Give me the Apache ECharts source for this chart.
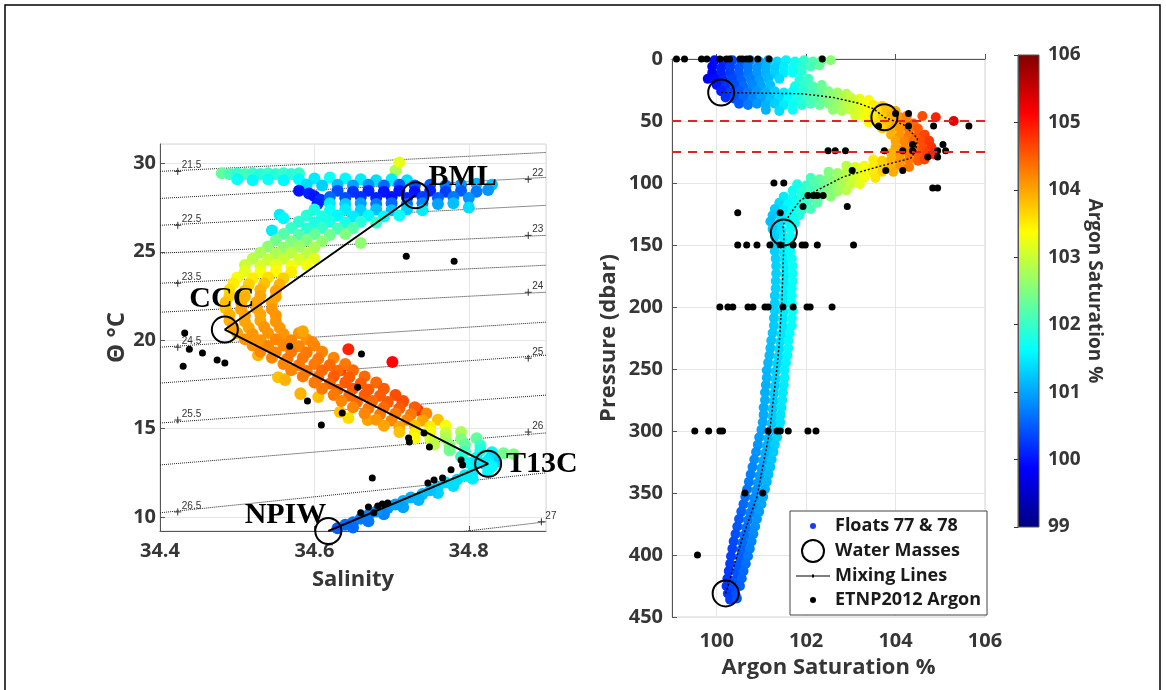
<!DOCTYPE html>
<html>
<head>
<meta charset="utf-8">
<title>Argon saturation – floats 77 &amp; 78</title>
<script src="https://cdn.jsdelivr.net/npm/echarts@6/dist/echarts.min.js"></script>
<style>
  html, body { margin: 0; background: #fff; }
  #main { width: 1166px; height: 690px; }
</style>
</head>
<body>
<div id="main"></div>
<script>
// jet colormap, 99 -> 106 %
var jetColors = ['#000080', '#0000ff', '#0080ff', '#00ffff', '#80ff80', '#ffff00', '#ff8000', '#ff0000', '#800000'];
var satMin = 99, satMax = 106;

// ---- left panel: theta / salinity ----
// [salinity, theta degC, argon saturation %]
var tsFloats = [
  [34.705,29.6,102.8],[34.71,30.05,103.2],
  [34.48,29.45,102.3],[34.49,29.4,102.1],[34.50,29.45,102.0],[34.51,29.4,102.1],[34.52,29.45,102.0],[34.53,29.4,101.9],[34.54,29.45,102.0],[34.55,29.4,101.9],[34.56,29.45,102.0],[34.57,29.4,101.9],[34.58,29.45,102.0],
  [34.50,29.1,101.7],[34.52,29.05,101.6],[34.54,29.1,101.7],[34.56,29.05,101.6],[34.58,29.1,101.6],[34.60,29.15,101.5],[34.62,29.2,101.7],[34.64,29.15,101.6],[34.66,29.1,101.5],[34.68,29.05,101.4],[34.70,29.1,101.5],[34.72,29.05,101.4],
  [34.59,28.8,101.4],[34.61,28.75,101.3],[34.63,28.8,101.2],[34.65,28.75,101.0],[34.67,28.8,100.9],[34.69,28.75,100.6],[34.71,28.8,100.5],[34.73,28.75,100.4],[34.75,28.8,100.5],[34.77,28.75,100.7],[34.79,28.8,100.9],[34.81,28.85,101.1],[34.83,28.8,101.2],
  [34.63,28.45,100.4],[34.65,28.4,100.2],[34.67,28.45,100.1],[34.69,28.4,100.0],[34.71,28.45,100.0],[34.73,28.4,100.0],[34.75,28.45,100.1],[34.77,28.4,100.3],[34.79,28.45,100.5],[34.81,28.4,100.7],[34.825,28.5,100.9],
  [34.58,28.45,100.0],[34.593,28.3,100.1],[34.60,28.15,100.0],[34.608,27.95,100.2],[34.604,27.7,100.1],
  [34.62,28.1,100.6],[34.64,28.05,100.4],[34.66,28.1,100.2],[34.68,28.05,100.1],[34.70,28.1,100.0],[34.72,28.05,100.1],[34.74,28.1,100.3],[34.76,28.05,100.5],[34.78,28.1,100.7],[34.80,28.05,100.9],
  [34.62,27.75,101.5],[34.64,27.7,101.3],[34.66,27.75,101.0],[34.68,27.7,100.7],[34.70,27.75,100.6],[34.72,27.7,100.6],[34.74,27.75,100.8],[34.76,27.7,101.0],[34.78,27.75,101.2],
  [34.80,27.5,101.4],
  [34.60,27.4,101.8],[34.62,27.35,101.7],[34.64,27.4,101.5],[34.66,27.35,101.3],[34.68,27.4,101.2],[34.70,27.35,101.2],[34.72,27.4,101.3],[34.74,27.35,101.5],
  [34.59,27.05,101.9],[34.61,27.0,101.8],[34.63,27.05,101.6],[34.65,27.0,101.5],[34.67,27.05,101.6],[34.69,27.0,101.6],[34.71,27.05,101.7],
  [34.58,26.7,101.9],[34.60,26.65,101.8],[34.62,26.7,101.8],[34.64,26.65,101.8],[34.66,26.7,101.9],[34.68,26.65,102.0],
  [34.555,27.1,101.5],[34.56,26.9,101.6],[34.545,26.2,101.5],
  [34.57,26.35,102.0],[34.59,26.3,101.9],[34.61,26.35,102.0],[34.63,26.3,102.1],[34.65,26.35,102.2],
  [34.56,26.0,102.2],[34.58,25.95,102.2],[34.60,26.0,102.3],[34.62,25.95,102.4],[34.64,26.0,102.5],
  [34.66,25.5,102.6],
  [34.55,25.65,102.4],[34.57,25.6,102.5],[34.59,25.65,102.5],[34.61,25.6,102.6],
  [34.54,25.3,102.6],[34.56,25.25,102.6],[34.58,25.3,102.7],[34.60,25.25,102.8],
  [34.53,24.95,102.8],[34.55,24.9,102.8],[34.57,24.95,102.9],[34.59,24.9,102.9],
  [34.52,24.6,102.9],[34.54,24.55,103.0],[34.56,24.6,103.0],[34.58,24.55,103.1],[34.60,24.6,103.2],
  [34.51,24.25,103.0],[34.53,24.2,103.1],[34.55,24.25,103.2],[34.57,24.2,103.3],[34.59,24.25,103.3],
  [34.51,23.9,103.2],[34.53,23.85,103.3],[34.55,23.9,103.4],[34.57,23.85,103.5],
  [34.50,23.55,103.3],[34.52,23.5,103.5],[34.54,23.55,103.6],[34.56,23.5,103.7],
  [34.495,23.2,103.5],[34.515,23.15,103.7],[34.535,23.2,103.8],[34.555,23.15,103.9],
  [34.49,22.85,103.6],[34.51,22.8,103.8],[34.53,22.85,103.9],[34.55,22.8,104.0],
  [34.49,22.5,103.7],[34.51,22.45,103.9],[34.53,22.5,104.0],[34.55,22.45,104.0],
  [34.485,22.15,103.8],[34.505,22.1,103.9],[34.525,22.15,104.0],[34.545,22.1,104.0],
  [34.485,21.8,103.8],[34.505,21.75,104.0],[34.525,21.8,104.0],[34.545,21.75,104.1],
  [34.49,21.45,103.9],[34.51,21.4,104.0],[34.53,21.45,104.0],[34.55,21.4,104.1],
  [34.49,21.1,103.9],[34.51,21.05,104.0],[34.53,21.1,104.0],[34.55,21.05,104.1],
  [34.495,20.75,104.0],[34.515,20.7,104.0],[34.535,20.75,104.1],[34.555,20.7,104.1],
  [34.50,20.4,104.0],[34.52,20.35,104.1],[34.54,20.4,104.1],[34.56,20.35,104.1],[34.58,20.4,104.1],
  [34.51,20.05,104.1],[34.53,20.0,104.1],[34.55,20.05,104.2],[34.57,20.0,104.2],[34.59,20.05,104.1],
  [34.585,20.5,104.0],[34.597,19.9,104.2],[34.527,19.15,103.9],[34.553,17.9,103.8],[34.562,17.74,103.9],[34.582,17.0,103.8],[34.605,16.78,103.8],
  [34.582,16.95,103.9],[34.633,15.93,103.8],[34.644,15.6,103.6],[34.669,15.48,104.0],
  [34.644,19.49,104.9],[34.701,18.76,105.1],[34.634,18.3,104.7],[34.734,16.05,104.8],[34.714,16.5,104.7],
  [34.52,19.7,104.1],[34.54,19.65,104.2],[34.56,19.7,104.2],[34.58,19.65,104.2],[34.60,19.7,104.2],
  [34.53,19.35,104.2],[34.55,19.3,104.2],[34.57,19.35,104.3],[34.59,19.3,104.3],[34.61,19.35,104.2],
  [34.545,19.0,104.2],[34.565,18.95,104.3],[34.585,19.0,104.3],[34.605,18.95,104.3],[34.625,19.0,104.2],
  [34.56,18.65,104.2],[34.58,18.6,104.3],[34.60,18.65,104.3],[34.62,18.6,104.4],[34.64,18.65,104.3],
  [34.57,18.3,104.2],[34.59,18.25,104.3],[34.61,18.3,104.4],[34.63,18.25,104.4],[34.65,18.3,104.4],
  [34.585,17.95,104.3],[34.605,17.9,104.4],[34.625,17.95,104.5],[34.645,17.9,104.5],[34.665,17.95,104.4],
  [34.60,17.6,104.3],[34.62,17.55,104.4],[34.64,17.6,104.5],[34.66,17.55,104.5],[34.68,17.6,104.4],
  [34.61,17.25,104.3],[34.63,17.2,104.4],[34.65,17.25,104.5],[34.67,17.2,104.5],[34.69,17.25,104.5],
  [34.625,16.9,104.3],[34.645,16.85,104.4],[34.665,16.9,104.5],[34.685,16.85,104.5],[34.705,16.9,104.6],
  [34.635,16.55,104.2],[34.655,16.5,104.4],[34.675,16.55,104.4],[34.695,16.5,104.5],[34.715,16.55,104.6],
  [34.65,16.2,104.2],[34.67,16.15,104.3],[34.69,16.2,104.4],[34.71,16.15,104.5],[34.73,16.2,104.5],
  [34.665,15.85,104.2],[34.685,15.8,104.3],[34.705,15.85,104.3],[34.725,15.8,104.3],[34.745,15.85,104.2],
  [34.68,15.5,104.1],[34.70,15.45,104.2],[34.72,15.5,104.2],[34.74,15.45,104.0],[34.76,15.5,103.8],
  [34.69,15.15,104.0],[34.71,15.1,104.0],[34.73,15.15,103.8],[34.75,15.1,103.5],[34.77,15.15,103.3],
  [34.71,14.8,103.8],[34.73,14.75,103.5],[34.75,14.8,103.3],[34.77,14.75,103.0],[34.79,14.8,102.8],
  [34.73,14.45,103.4],[34.75,14.4,103.1],[34.77,14.45,102.8],[34.79,14.4,102.5],[34.81,14.45,102.3],
  [34.755,14.1,102.9],[34.775,14.05,102.6],[34.795,14.1,102.3],[34.815,14.05,102.0],
  [34.775,13.75,102.4],[34.795,13.7,102.1],[34.815,13.75,101.8],[34.83,13.65,101.6],
  [34.79,13.4,101.9],[34.81,13.35,101.6],[34.83,13.4,101.4],
  [34.80,13.05,101.6],[34.82,13.0,101.4],[34.835,13.1,101.3],
  [34.845,13.6,102.4],[34.858,13.55,102.5],
  [34.825,13.2,101.5],[34.81,13.1,101.5],[34.83,12.85,101.6],[34.805,12.5,101.5],[34.825,12.55,101.6],
  [34.785,12.1,101.4],[34.805,12.15,101.5],[34.795,12.35,101.5],[34.76,11.7,101.3],[34.78,11.75,101.4],[34.77,11.95,101.4],
  [34.74,11.3,101.2],[34.76,11.35,101.3],[34.75,11.5,101.2],[34.715,10.9,101.1],[34.735,10.95,101.1],[34.725,11.1,101.1],
  [34.695,10.5,100.9],[34.715,10.55,101.0],[34.705,10.7,101.0],[34.67,10.1,100.8],[34.69,10.15,100.8],[34.68,10.3,100.9],
  [34.65,9.7,100.7],[34.67,9.75,100.7],[34.66,9.9,100.7],[34.63,9.35,100.5],[34.65,9.4,100.6],[34.64,9.55,100.6]
];

// ETNP 2012 bottle samples [salinity, theta]
var tsEtnp = [
  [34.719,24.75],[34.781,24.46],[34.432,20.40],[34.438,19.49],[34.430,18.53],[34.455,19.27],[34.474,18.87],[34.484,18.70],
  [34.568,19.66],[34.661,19.21],[34.656,17.34],[34.591,16.55],[34.609,15.20],[34.636,15.88],[34.722,14.46],[34.723,14.24],
  [34.742,14.75],[34.749,13.95],[34.675,12.20],[34.790,13.22],[34.792,12.94],[34.777,12.66],[34.766,12.20],[34.755,12.09],
  [34.747,11.92],[34.695,10.79],[34.688,10.73],[34.682,10.62],[34.670,10.56],[34.660,10.23],[34.677,10.23]
];

// water masses (joined in order by the mixing lines)
var tsMassNames = ['BML', 'CCC', 'T13C', 'NPIW'];
var tsMasses = [[34.731, 28.2], [34.484, 20.6], [34.825, 13.0], [34.618, 9.2]];

// sigma-theta isopycnals: theta where each crosses S = 34.4 and S = 34.9
var sigmaEdges = [34.4, 34.9];
var sigmaLevels = [21.5, 22, 22.5, 23, 23.5, 24, 24.5, 25, 25.5, 26, 26.5, 27];
var sigmaThetaLeft = [29.55, 28.02, 26.50, 24.92, 23.22, 21.58, 19.60, 17.57, 15.31, 12.94, 10.23, 7.17];
var sigmaThetaRight = [30.62, 29.21, 27.63, 25.93, 24.24, 22.71, 21.02, 19.15, 16.89, 14.75, 12.49, 9.72];
// where the isopycnal labels sit [salinity, theta, text]
var sigmaLabels = [
  [34.423, 29.55, '21.5'], [34.423, 26.50, '22.5'], [34.423, 23.22, '23.5'], [34.423, 19.60, '24.5'],
  [34.423, 15.48, '25.5'], [34.423, 10.28, '26.5'],
  [34.877, 29.10, '22'], [34.877, 25.93, '23'], [34.877, 22.71, '24'], [34.877, 18.98, '25'],
  [34.877, 14.80, '26'], [34.894, 9.72, '27']
];

// ---- right panel: pressure / argon saturation ----
// [argon saturation %, pressure dbar]
var prFloats = [
  [99.95,1],[100.15,2],[100.35,1],[100.55,2],[100.75,1],[100.95,2],[101.15,1],[101.35,2],[101.55,1],[101.75,2],[101.95,1],[102.15,2],[102.35,1],[102.55,1],
  [99.9,6],[100.1,7],[100.3,6],[100.5,7],[100.7,6],[100.9,7],[101.1,6],[101.3,7],[101.5,6],[101.7,7],[101.9,6],[102.1,6],[102.3,5],
  [99.9,11],[100.1,12],[100.3,11],[100.5,12],[100.7,11],[100.9,12],[101.1,11],[101.3,12],[101.5,11],[101.7,11],[101.9,10],
  [99.8,16],[99.95,16],[100.15,17],[100.35,16],[100.55,17],[100.75,16],[100.95,17],[101.15,16],[101.4,16],[101.85,17],[102.05,16],
  [100.0,21],[100.2,22],[100.4,21],[100.6,22],[100.8,21],[101.0,22],[101.2,21],[101.75,22],[101.95,21],[102.15,22],[102.35,21],
  [100.1,26],[100.3,27],[100.5,26],[100.7,27],[100.9,26],[101.1,27],[101.3,26],[101.5,27],[101.7,26],[101.9,27],[102.1,26],[102.3,27],[102.5,26],[102.7,27],[102.9,28],
  [100.2,31],[100.4,32],[100.6,31],[100.8,32],[101.0,31],[101.2,32],[101.4,31],[101.6,32],[101.8,31],[102.0,32],[102.2,31],[102.4,32],[102.6,31],[102.8,32],[103.0,31],[103.2,32],[103.4,33],
  [100.5,36],[100.7,37],[100.9,36],[101.1,37],[101.3,36],[101.5,37],[101.7,36],[101.9,37],[102.1,36],[102.3,37],[102.5,36],[102.7,37],[102.9,36],[103.1,37],[103.3,36],[103.5,37],[103.7,38],
  [101.1,41],[101.4,42],[101.7,41],[102.6,41],[102.8,42],[103.0,41],[103.2,42],[103.4,41],[103.6,42],[103.8,41],[104.0,42],
  [103.1,46],[103.3,47],[103.5,46],[103.7,47],[103.9,46],[104.1,47],[104.25,46],[104.6,46],[104.9,47],[105.3,50],
  [103.4,51],[103.6,52],[103.8,51],[104.0,52],[104.2,51],[104.4,52],
  [103.7,56],[103.9,57],[104.1,56],[104.3,57],[104.5,56],
  [103.9,61],[104.1,62],[104.3,61],[104.5,62],[104.65,61],
  [104.0,66],[104.2,67],[104.4,66],[104.6,67],[104.75,66],
  [104.0,71],[104.2,72],[104.4,71],[104.6,72],[104.8,71],
  [103.9,76],[104.1,77],[104.3,76],[104.5,77],[104.7,76],[104.85,77],
  [103.5,81],[103.7,82],[103.9,81],[104.1,82],[104.3,81],[104.5,82],[104.65,81],
  [102.9,86],[103.1,87],[103.3,86],[103.5,87],[103.7,86],[103.9,87],[104.1,86],[104.3,87],
  [102.5,91],[102.7,92],[102.9,91],[103.1,92],[103.3,91],[103.5,92],[103.7,91],[103.95,91],
  [102.1,96],[102.3,97],[102.5,96],[102.7,97],[102.9,96],[103.1,97],[103.3,96],[103.55,96],
  [101.8,101],[102.0,102],[102.2,101],[102.4,102],[102.6,101],[102.8,102],[103.0,101],[103.2,101],
  [101.7,106],[101.9,107],[102.1,106],[102.3,107],[102.5,106],[102.7,107],[102.9,106],
  [101.5,111],[101.7,112],[101.9,111],[102.1,112],[102.3,111],[102.55,111],
  [101.4,116],[101.6,117],[101.8,116],[102.0,117],[102.25,116],
  [101.3,121],[101.5,122],[101.7,121],[101.9,122],[102.1,121],
  [101.25,126],[101.45,127],[101.65,126],[101.85,126],
  [101.2,131],[101.4,132],[101.6,131],[101.75,132],
  [101.25,137],[101.45,138],[101.65,137],[101.3,143],[101.5,144],[101.65,143],
  [101.3,149],[101.5,150],[101.65,149],[101.3,155],[101.5,156],[101.65,155],
  [101.32,161],[101.52,162],[101.68,161],[101.33,167],[101.53,168],[101.7,167],
  [101.33,173],[101.53,174],[101.7,173],[101.32,179],[101.52,180],[101.7,179],
  [101.32,185],[101.52,186],[101.68,185],[101.3,191],[101.5,192],[101.68,191],
  [101.3,197],[101.5,198],[101.68,197],[101.3,203],[101.5,204],[101.7,203],
  [101.28,209],[101.48,210],[101.68,209],[101.28,215],[101.48,216],[101.68,215],
  [101.25,221],[101.45,222],[101.63,221],[101.22,227],[101.42,228],[101.6,227],
  [101.2,233],[101.4,234],[101.6,233],[101.18,239],[101.38,240],[101.58,239],
  [101.15,245],[101.35,246],[101.55,245],[101.12,251],[101.32,252],[101.52,251],
  [101.12,257],[101.32,258],[101.52,257],[101.1,263],[101.3,264],[101.5,263],
  [101.08,269],[101.28,270],[101.48,269],[101.08,275],[101.28,276],[101.47,275],
  [101.05,281],[101.25,282],[101.45,281],[101.05,287],[101.25,288],[101.43,287],
  [101.03,293],[101.23,294],[101.42,293],[101.0,299],[101.2,300],[101.4,299],
  [100.95,305],[101.15,306],[101.35,305],[100.92,311],[101.12,312],[101.3,311],
  [100.88,317],[101.08,318],[101.27,317],[100.84,323],[101.04,324],[101.23,323],
  [100.8,329],[101.0,330],[101.2,329],[100.76,335],[100.96,336],[101.16,335],
  [100.72,341],[100.92,342],[101.12,341],[100.68,347],[100.88,348],[101.08,347],
  [100.64,353],[100.84,354],[101.04,353],[100.6,359],[100.8,360],[101.0,359],
  [100.55,365],[100.75,366],[100.95,365],[100.5,371],[100.7,372],[100.9,371],
  [100.46,377],[100.66,378],[100.86,377],[100.42,383],[100.62,384],[100.82,383],
  [100.38,389],[100.58,390],[100.78,389],[100.35,395],[100.55,396],[100.74,395],
  [100.32,401],[100.52,402],[100.7,401],[100.3,407],[100.48,408],[100.65,407],
  [100.27,413],[100.45,414],[100.6,413],[100.24,419],[100.42,420],[100.56,419],
  [100.22,425],[100.38,426],[100.52,425],[100.25,431],[100.42,432],[100.3,436],[100.45,435]
];

var prEtnp = [
  [99.10,0],[99.28,0],[99.66,0],[99.78,0],[100.07,0],[100.22,0],[100.29,0],[100.52,0],[100.58,0],[100.67,0],[100.74,0],[100.92,0],[101.17,0],[102.36,0],
  [104.0,44],[104.29,44],
  [103.62,54],[104.29,54],[104.85,54],[105.64,54],
  [104.38,69],[105.06,69],
  [102.49,74],[102.65,74],[102.88,74],[103.75,74],[104.16,74],[104.38,74],[104.94,74],[105.12,74],
  [104.72,79],[104.94,79],
  [103.03,90],[103.78,90],[104.16,90],
  [101.28,100],[101.5,100],
  [104.83,104],[104.94,104],
  [102.04,110],[102.16,110],[102.25,110],[102.38,110],
  [101.93,119],[102.92,119],
  [100.47,124],[101.42,124],
  [100.47,150],[100.67,150],[100.9,150],[101.19,150],[101.42,150],[101.71,150],[101.91,150],[101.98,150],[102.25,150],[103.06,150],
  [100.07,200],[100.25,200],[100.36,200],[100.70,200],[100.81,200],[101.08,200],[101.15,200],[101.48,200],[101.71,200],[102.02,200],[102.09,200],[102.58,200],
  [99.51,300],[99.82,300],[100.07,300],[100.13,300],[101.15,300],[101.35,300],[101.42,300],[101.6,300],[102.04,300],[102.22,300],
  [100.63,350],[101.03,350],
  [99.57,400]
];

var prMasses = [[100.1, 27], [103.75, 47], [101.5, 140], [100.2, 431]];
var prMixing = [
  [100.1,27],[100.9,27.5],[101.9,28],[102.6,31],[103.15,35.5],[103.5,40],[103.75,47],[104.18,53],[104.49,64],
  [104.45,74],[104.34,80],[103.6,87],[102.83,95],[102.24,106],[101.87,114],[101.7,122],[101.48,134],[101.5,140],
  [101.5,150],[101.46,194],[101.4,229],[101.35,248],[101.19,299],[100.9,353],[100.56,388],[100.2,431]
];
var refDepths = [50, 75];

var myChart = echarts.init(document.getElementById('main'));

var font = 'Open Sans';
var tickLabel = { fontFamily: font, fontSize: 20, fontWeight: 'bold', color: '#363636' };
var axisName = { fontFamily: font, fontSize: 22, fontWeight: 'bold', color: '#363636' };
var darkLine = { lineStyle: { color: '#555', width: 1 } };
var inTick = { inside: true, length: 5, lineStyle: { color: '#555' } };
var lightSplit = { lineStyle: { color: '#e6e6e6', width: 1 } };

var massLabelPos = {
  BML: { position: 'right', offset: [-6, -18] },
  CCC: { position: 'top', offset: [-3, 4] },
  T13C: { position: 'right', offset: [-1, 0] },
  NPIW: { position: 'left', offset: [17, -16] }
};

var dotIcon = 'path://M0,0M34,22M14,11a3,3 0 1,0 6,0a3,3 0 1,0 -6,0z';
var lineIcon = 'path://M0,0M34,22M0,10.4L34,10.4L34,11.6L0,11.6z M16,9.5L18,9.5L18,12.5L16,12.5z';

var series = [];

// isopycnals
sigmaLevels.forEach(function (lev, i) {
  series.push({
    type: 'line', xAxisIndex: 0, yAxisIndex: 0, silent: true, symbol: 'none',
    data: [[sigmaEdges[0], sigmaThetaLeft[i]], [sigmaEdges[1], sigmaThetaRight[i]]],
    lineStyle: { color: '#222', width: 1, type: 'dotted' },
    z: 1
  });
});
series.push({
  type: 'scatter', xAxisIndex: 0, yAxisIndex: 0, silent: true,
  data: sigmaLabels,
  symbol: 'path://M0,4L8,4M4,0L4,8', symbolSize: 7,
  itemStyle: { color: 'none', borderColor: '#333', borderWidth: 1, opacity: 1 },
  label: {
    show: true, position: 'right', distance: 0, offset: [-2, -6],
    fontFamily: 'Liberation Sans', fontSize: 10, color: '#333',
    formatter: function (p) { return p.data[2]; }
  },
  z: 2
});

var tsFloatIndex = series.length;
series.push({
  name: 'Floats 77 & 78', type: 'scatter', xAxisIndex: 0, yAxisIndex: 0,
  data: tsFloats, symbolSize: 12, clip: false,
  itemStyle: { color: '#1f3ce8', opacity: 1 }, z: 3
});
series.push({
  name: 'ETNP2012 Argon', type: 'scatter', xAxisIndex: 0, yAxisIndex: 0,
  data: tsEtnp, symbolSize: 7, itemStyle: { color: '#000', opacity: 1 }, z: 4
});
series.push({
  name: 'Mixing Lines', type: 'line', xAxisIndex: 0, yAxisIndex: 0,
  data: tsMasses, symbol: 'none', lineStyle: { color: '#000', width: 2 }, z: 5
});
series.push({
  name: 'Water Masses', type: 'scatter', xAxisIndex: 0, yAxisIndex: 0, clip: false,
  data: tsMasses.map(function (d, i) {
    var pos = massLabelPos[tsMassNames[i]];
    return {
      value: d, name: tsMassNames[i],
      label: {
        show: true, position: pos.position, offset: pos.offset, formatter: tsMassNames[i],
        fontFamily: 'Liberation Serif', fontWeight: 'bold', fontSize: 30, color: '#000'
      }
    };
  }),
  symbol: 'circle', symbolSize: 26,
  itemStyle: { color: 'rgba(0,0,0,0)', borderColor: '#000', borderWidth: 2, opacity: 1 },
  z: 6
});

// right panel
var prFloatIndex = series.length;
series.push({
  name: 'Floats 77 & 78', type: 'scatter', xAxisIndex: 1, yAxisIndex: 1,
  data: prFloats, symbolSize: 10, clip: false,
  itemStyle: { color: '#1f3ce8', opacity: 1 }, z: 3
});
series.push({
  name: 'ETNP2012 Argon', type: 'scatter', xAxisIndex: 1, yAxisIndex: 1, clip: false,
  data: prEtnp, symbolSize: 7, itemStyle: { color: '#000', opacity: 1 }, z: 4,
  markLine: {
    silent: true, symbol: 'none', label: { show: false },
    lineStyle: { color: '#e02424', width: 2, type: [9, 7] },
    data: refDepths.map(function (d) { return { yAxis: d }; })
  }
});
series.push({
  name: 'Mixing Lines', type: 'line', xAxisIndex: 1, yAxisIndex: 1,
  data: prMixing, symbol: 'none', smooth: false,
  lineStyle: { color: '#000', width: 1.4, type: [2, 2] }, z: 5
});
series.push({
  name: 'Water Masses', type: 'scatter', xAxisIndex: 1, yAxisIndex: 1, clip: false,
  data: prMasses, symbol: 'circle', symbolSize: 26,
  itemStyle: { color: 'rgba(0,0,0,0)', borderColor: '#000', borderWidth: 2, opacity: 1 }, z: 6
});

var jetStops = jetColors.map(function (c, i) {
  return { offset: i / (jetColors.length - 1), color: c };
});

myChart.setOption({
  animation: false,
  backgroundColor: '#fff',
  textStyle: { fontFamily: font },
  graphic: [{
    type: 'rect', silent: true,
    shape: { x: 5, y: 5, width: 1155, height: 700 },
    style: { fill: 'none', stroke: '#000', lineWidth: 1.5 }
  }],
  grid: [
    { left: 160, top: 144, width: 386, height: 387, show: true, borderColor: '#d4d4d4', borderWidth: 1 },
    { left: 672, top: 59, width: 313, height: 558, show: true, borderColor: '#d4d4d4', borderWidth: 1 },
    {
      left: 1018, top: 55, width: 21, height: 472, show: true, borderColor: '#555', borderWidth: 1,
      backgroundColor: { type: 'linear', x: 0, y: 1, x2: 0, y2: 0, colorStops: jetStops }
    }
  ],
  xAxis: [
    {
      gridIndex: 0, type: 'value', min: 34.4, max: 34.9, interval: 0.2,
      name: 'Salinity', nameLocation: 'middle', nameGap: 38, nameTextStyle: axisName,
      axisLine: darkLine, axisTick: inTick, splitLine: lightSplit,
      axisLabel: Object.assign({ margin: 10, showMaxLabel: false, formatter: function (v) { return v.toFixed(1); } }, tickLabel)
    },
    {
      gridIndex: 1, type: 'value', min: satMin, max: satMax, splitNumber: 3,
      name: 'Argon Saturation %', nameLocation: 'middle', nameGap: 40, nameTextStyle: axisName,
      axisLine: darkLine, axisTick: inTick, splitLine: lightSplit,
      axisLabel: Object.assign({ margin: 14, showMinLabel: false }, tickLabel)
    },
    { gridIndex: 2, type: 'value', min: 0, max: 1, show: false }
  ],
  yAxis: [
    {
      gridIndex: 0, type: 'value', min: 9.2, max: 31.1, splitNumber: 5,
      name: 'Θ °C', nameLocation: 'middle', nameGap: 24, nameRotate: 90,
      nameTextStyle: { fontFamily: font, fontSize: 24, fontWeight: 'bold', color: '#363636' },
      axisLine: darkLine, axisTick: inTick, splitLine: lightSplit,
      axisLabel: Object.assign({ margin: 4, showMinLabel: false, showMaxLabel: false }, tickLabel)
    },
    {
      gridIndex: 1, type: 'value', min: 0, max: 450, interval: 50, inverse: true,
      name: 'Pressure (dbar)', nameLocation: 'middle', nameGap: 52, nameRotate: 90, nameTextStyle: axisName,
      axisLine: darkLine, axisTick: inTick, splitLine: lightSplit,
      axisLabel: Object.assign({ margin: 9 }, tickLabel)
    },
    {
      gridIndex: 2, type: 'value', min: satMin, max: satMax, interval: 1, position: 'right',
      name: 'Argon Saturation %', nameLocation: 'middle', nameGap: 40, nameRotate: -90,
      nameTextStyle: { fontFamily: font, fontSize: 19, fontWeight: 'bold', color: '#333' },
      axisLine: darkLine, axisTick: { inside: true, length: 4, lineStyle: { color: '#333' } },
      splitLine: { show: false },
      axisLabel: Object.assign({ margin: 9 }, tickLabel, { fontSize: 19 })
    }
  ],
  visualMap: [
    {
      type: 'continuous', show: false, min: satMin, max: satMax, dimension: 2,
      seriesIndex: tsFloatIndex, inRange: { color: jetColors }
    },
    {
      type: 'continuous', show: false, min: satMin, max: satMax, dimension: 0,
      seriesIndex: prFloatIndex, inRange: { color: jetColors }
    }
  ],
  legend: {
    orient: 'vertical', left: 790, top: 511,
    padding: [4, 6, 4, 6], itemGap: 2, itemWidth: 34, itemHeight: 22,
    backgroundColor: '#fff', borderColor: '#444', borderWidth: 1,
    selectedMode: false,
    textStyle: { fontFamily: font, fontSize: 18, fontWeight: 'bold', color: '#1a1a1a' },
    data: [
      { name: 'Floats 77 & 78', icon: dotIcon, itemStyle: { color: '#1f3ce8' } },
      { name: 'Water Masses', icon: 'circle', itemStyle: { color: '#fff', borderColor: '#000', borderWidth: 2 } },
      { name: 'Mixing Lines', icon: lineIcon, itemStyle: { color: '#000' } },
      { name: 'ETNP2012 Argon', icon: dotIcon, itemStyle: { color: '#000' } }
    ]
  },
  series: series
});
</script>
</body>
</html>
